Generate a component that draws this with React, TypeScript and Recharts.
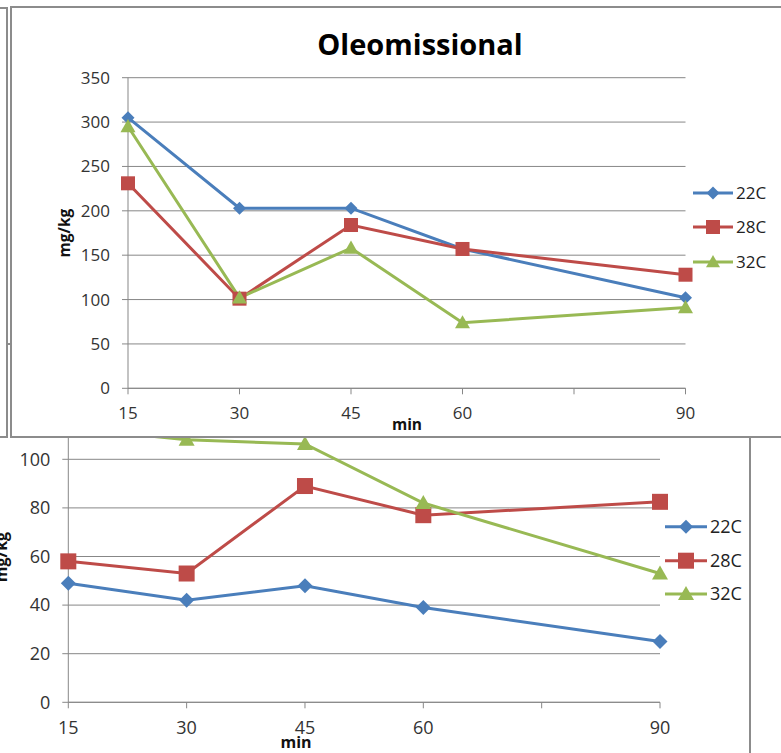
import React from 'react';
import { LineChart, Line, XAxis, YAxis, CartesianGrid, Label } from 'recharts';

// ---------- data ----------
const minutes = [15, 30, 45, 60, 90];
const xTicks = [15, 30, 45, 60, 75, 90];
const xTickLabels = ['15', '30', '45', '60', '', '90'];
const seriesNames = ['22C', '28C', '32C'];
const seriesColors = ['#4A7EBB', '#BE4B48', '#98B954'];
const seriesShapes = ['diamond', 'square', 'triangle'];
const chartTitle = 'Oleomissional';
const xTitle = 'min';
const yTitle = 'mg/kg';

const topYTicks = [0, 50, 100, 150, 200, 250, 300, 350];
const top22 = [305, 203, 203, 157, 102];
const top28 = [231, 101, 184, 157, 128];
const top32 = [295, 102, 158, 74, 91];

const bottomYTicks = [0, 20, 40, 60, 80, 100, 120];
const bottom22 = [49, 42, 48, 39, 25];
const bottom28 = [58, 53, 89, 77, 82.5];
const bottom32 = [113, 108, 106.3, 82, 53];

const makeData = (a: number[], b: number[], c: number[]) =>
  minutes.map((m, i) => ({ min: m, s0: a[i], s1: b[i], s2: c[i] }));

const topData = makeData(top22, top28, top32);
const bottomData = makeData(bottom22, bottom28, bottom32);

// ---------- helpers ----------
const FONT = '"Open Sans", "Noto Sans", sans-serif';
const GRID = '#878787';
const TEXT = '#333333';

function Marker({ shape, cx, cy, s, color }: any) {
  if (cx == null || cy == null) return null;
  if (shape === 'diamond') {
    return (
      <polygon
        points={`${cx},${cy - s} ${cx + s},${cy} ${cx},${cy + s} ${cx - s},${cy}`}
        fill={color}
      />
    );
  }
  if (shape === 'square') {
    return <rect x={cx - s} y={cy - s} width={2 * s} height={2 * s} fill={color} />;
  }
  return (
    <polygon
      points={`${cx},${cy - s} ${cx + s},${cy + s * 0.75} ${cx - s},${cy + s * 0.75}`}
      fill={color}
    />
  );
}

function LegendBox({ x0, x1, textX, ys, fontSize, sizes }: any) {
  return (
    <svg
      style={{ position: 'absolute', left: 0, top: 0, overflow: 'visible', pointerEvents: 'none' }}
      width={1}
      height={1}
    >
      {seriesNames.map((n, i) => (
        <g key={n}>
          <line x1={x0} x2={x1} y1={ys[i]} y2={ys[i]} stroke={seriesColors[i]} strokeWidth={3} />
          <Marker shape={seriesShapes[i]} cx={(x0 + x1) / 2} cy={ys[i]} s={sizes[i]} color={seriesColors[i]} />
          <text
            x={textX}
            y={ys[i]}
            dy="0.36em"
            fontFamily={FONT}
            fontSize={fontSize}
            fill="#222"
          >
            {n}
          </text>
        </g>
      ))}
    </svg>
  );
}

function Chart({
  data,
  width,
  height,
  margin,
  yTicks,
  tickFont,
  labelFont,
  markerSizes,
  yLabelPos,
  xLabelPos,
}: any) {
  return (
    <LineChart width={width} height={height} data={data} margin={margin}>
      <CartesianGrid vertical={false} stroke={GRID} strokeWidth={1} />
      <XAxis
        dataKey="min"
        type="number"
        domain={[xTicks[0], xTicks[xTicks.length - 1]]}
        ticks={xTicks}
        interval={0}
        tickFormatter={(v: number) => xTickLabels[xTicks.indexOf(v)]}
        height={30}
        axisLine={{ stroke: GRID, strokeWidth: 1 }}
        tickLine={{ stroke: GRID, strokeWidth: 1 }}
        tickSize={6}
        tickMargin={13}
        tick={{ fill: TEXT, fontSize: tickFont, fontFamily: FONT }}
      >
        <Label
          content={() => (
            <text
              x={xLabelPos[0]}
              y={xLabelPos[1]}
              textAnchor="middle"
              fontFamily={FONT}
              fontWeight="bold"
              fontSize={labelFont}
              fill="#111"
            >
              {xTitle}
            </text>
          )}
        />
      </XAxis>
      <YAxis
        type="number"
        domain={[yTicks[0], yTicks[yTicks.length - 1]]}
        ticks={yTicks}
        interval={0}
        width={40}
        axisLine={{ stroke: GRID, strokeWidth: 1 }}
        tickLine={{ stroke: GRID, strokeWidth: 1 }}
        tickSize={6}
        tickMargin={12}
        tick={{ fill: TEXT, fontSize: tickFont, fontFamily: FONT }}
      >
        <Label
          content={() => (
            <text
              x={yLabelPos[0]}
              y={yLabelPos[1]}
              textAnchor="middle"
              transform={`rotate(-90, ${yLabelPos[0]}, ${yLabelPos[1]})`}
              fontFamily={FONT}
              fontWeight="bold"
              fontSize={labelFont}
              fill="#111"
            >
              {yTitle}
            </text>
          )}
        />
      </YAxis>
      {seriesNames.map((n, i) => (
        <Line
          key={n}
          dataKey={`s${i}`}
          name={n}
          stroke={seriesColors[i]}
          strokeWidth={3}
          isAnimationActive={false}
          activeDot={false}
          dot={(p: any) => (
            <Marker
              key={`${n}-${p.index}`}
              shape={seriesShapes[i]}
              cx={p.cx}
              cy={p.cy}
              s={markerSizes[i]}
              color={seriesColors[i]}
            />
          )}
        />
      ))}
    </LineChart>
  );
}

const frame: React.CSSProperties = {
  position: 'absolute',
  inset: 0,
  border: '2px solid #8c8c8c',
  boxSizing: 'border-box',
  pointerEvents: 'none',
};

export default function App() {
  return (
    <div
      style={{
        position: 'absolute',
        left: 0,
        top: 0,
        width: 781,
        height: 753,
        overflow: 'hidden',
        background: '#fff',
      }}
    >
      {/* lower chart (partly hidden) */}
      <div style={{ position: 'absolute', left: -100, top: 343, width: 851, height: 480, background: '#fff' }}>
        <Chart
          data={bottomData}
          width={851}
          height={480}
          margin={{ top: 67.7, right: 91, bottom: 90.7, left: 128.3 }}
          yTicks={bottomYTicks}
          tickFont={18}
          labelFont={16}
          markerSizes={[7.5, 8, 8]}
          yLabelPos={[107, 214]}
          xLabelPos={[396, 405]}
        />
        <LegendBox x0={765} x1={807} textX={810} ys={[183.7, 217.7, 251]} fontSize={18} sizes={[7, 8, 8]} />
        <div style={frame} />
      </div>

      {/* left chart frame behind */}
      <div style={{ position: 'absolute', left: -100, top: 7, width: 108, height: 431, background: '#fff' }}>
        <div style={frame} />
      </div>

      {/* upper chart */}
      <div style={{ position: 'absolute', left: 10, top: 6, width: 800, height: 432, background: '#fff' }}>
        <Chart
          data={topData}
          width={800}
          height={432}
          margin={{ top: 71.7, right: 124.5, bottom: 19.7, left: 78 }}
          yTicks={topYTicks}
          tickFont={17}
          labelFont={15.5}
          markerSizes={[6.5, 7, 7.5]}
          yLabelPos={[60, 227]}
          xLabelPos={[397, 424]}
        />
        <svg
          style={{ position: 'absolute', left: 0, top: 0, overflow: 'visible', pointerEvents: 'none' }}
          width={1}
          height={1}
        >
          <text
            x={410}
            y={49}
            textAnchor="middle"
            fontFamily={FONT}
            fontWeight="bold"
            fontSize={29}
            fill="#000"
          >
            {chartTitle}
          </text>
        </svg>
        <LegendBox x0={683} x1={723} textX={726} ys={[187, 221, 256]} fontSize={17} sizes={[6.5, 7, 7]} />
        <div style={frame} />
      </div>
    </div>
  );
}
